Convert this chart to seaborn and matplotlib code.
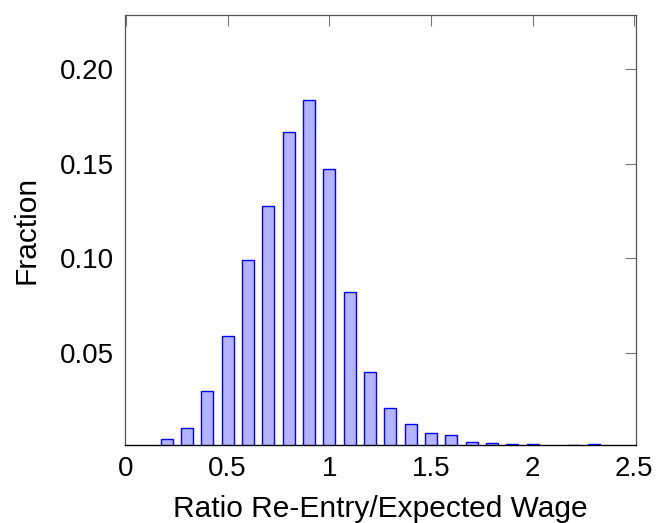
import matplotlib
matplotlib.use("Agg")
import matplotlib.pyplot as plt
import seaborn as sns
import pandas as pd

ratio = [0.2, 0.3, 0.4, 0.5, 0.6, 0.7, 0.8, 0.9, 1.0, 1.1, 1.2, 1.3, 1.4,
         1.5, 1.6, 1.7, 1.8, 1.9, 2.0, 2.1, 2.2, 2.3]
fraction = [0.0041, 0.0101, 0.0295, 0.0587, 0.0988, 0.1276, 0.1671, 0.1837,
            0.1472, 0.0820, 0.0399, 0.0208, 0.0120, 0.0076, 0.0062, 0.0025,
            0.0019, 0.0014, 0.0018, 0.0000, 0.0011, 0.0018]
xticks = [0, 0.5, 1, 1.5, 2, 2.5]
xticklabels = ["0", "0.5", "1", "1.5", "2", "2.5"]
yticks = [0.05, 0.10, 0.15, 0.20]
yticklabels = ["0.05", "0.10", "0.15", "0.20"]

df = pd.DataFrame({"ratio": ratio, "fraction": fraction})

sns.set_theme(style="white")
plt.rcParams["font.family"] = ["Liberation Sans", "DejaVu Sans"]

fig = plt.figure(figsize=(6.62, 5.23), dpi=100)
ax = fig.add_axes([0.1888, 0.1491, 0.9603 - 0.1888, 0.9719 - 0.1491])

sns.barplot(data=df, x="ratio", y="fraction", native_scale=True, width=0.6,
            color="#b3b3ff", saturation=1, edgecolor="#0000ff", linewidth=1.0,
            ax=ax)

ax.set_xlim(-0.005, 2.507)
ax.set_ylim(0.001, 0.229)
ax.set_xticks(xticks)
ax.set_xticklabels(xticklabels)
ax.set_yticks(yticks)
ax.set_yticklabels(yticklabels)

ax.tick_params(axis="both", which="both", direction="in", length=8, width=0.8,
               color="#777777", labelsize=20, labelcolor="black",
               top=True, right=True, pad=8)
for s in ["left", "right", "top"]:
    ax.spines[s].set_color("#555555")
    ax.spines[s].set_linewidth(0.9)
ax.spines["bottom"].set_color("black")
ax.spines["bottom"].set_linewidth(1.0)

ax.set_xlabel("Ratio Re-Entry/Expected Wage", fontsize=21.5, color="black", labelpad=9)
ax.set_ylabel("Fraction", fontsize=21.5, color="black", labelpad=14)

fig.savefig("out.png", dpi=100)
